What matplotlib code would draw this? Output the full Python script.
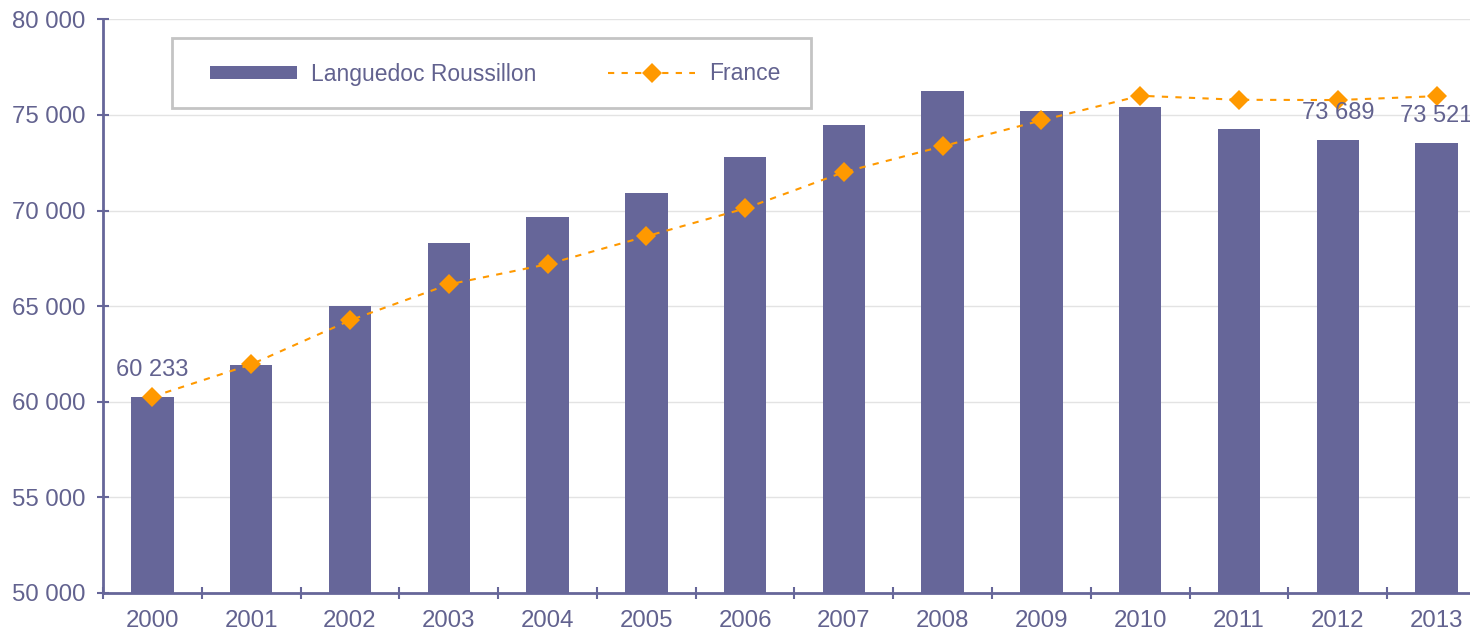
import matplotlib
matplotlib.use("Agg")
import matplotlib.pyplot as plt
from matplotlib.patches import Rectangle
from matplotlib.ticker import FuncFormatter, FixedLocator
import numpy as np

years = ["2000", "2001", "2002", "2003", "2004", "2005", "2006",
         "2007", "2008", "2009", "2010", "2011", "2012", "2013"]
languedoc = [60233, 61904, 65011, 68288, 69641, 70910, 72791,
             74461, 76258, 75201, 75412, 74250, 73689, 73521]
france = [60254, 61946, 64251, 66132, 67189, 68648, 70106,
          72009, 73362, 74715, 76004, 75793, 75780, 75983]
labelled = {0: "60 233", 12: "73 689", 13: "73 521"}

BAR = "#666699"
ORANGE = "#FF9900"
TXT = "#62628F"
W, H, DPI = 1470, 633, 100

plt.rcParams["font.family"] = ["Liberation Sans", "DejaVu Sans"]
fig = plt.figure(figsize=(W / DPI, H / DPI), dpi=DPI)
left, right = 103, 1486
top, bottom = 19.4, 592.7
ax = fig.add_axes([left / W, 1 - bottom / H, (right - left) / W, (bottom - top) / H])

x = np.arange(len(years))
bars = ax.bar(x, languedoc, width=0.43, color=BAR, zorder=2, label="Languedoc Roussillon")
line, = ax.plot(x, france, linestyle=(0, (3, 3.5)), color=ORANGE, linewidth=1.5,
                marker="D", markersize=10, markeredgewidth=0, zorder=3, label="France")

for i, txt in labelled.items():
    ax.annotate(txt, (x[i], languedoc[i]), xytext=(0, 19.5), textcoords="offset points",
                ha="center", va="center", fontsize=17, color=TXT, zorder=4)

ax.set_xlim(-0.5, len(years) - 0.5)
ax.set_ylim(50000, 80000)
ax.set_yticks(np.arange(50000, 80001, 5000))
ax.yaxis.set_major_formatter(FuncFormatter(lambda v, p: f"{int(v):,}".replace(",", " ")))
ax.set_xticks(x)
ax.set_xticklabels(years)
ax.xaxis.set_minor_locator(FixedLocator(np.arange(-0.5, len(years), 1.0)))

ax.grid(axis="y", color="#E3E3E3", linewidth=1.0, zorder=0)
ax.set_axisbelow(True)
for s in ["top", "right"]:
    ax.spines[s].set_visible(False)
for s in ["left", "bottom"]:
    ax.spines[s].set_color(BAR)
    ax.spines[s].set_linewidth(2)

ax.tick_params(axis="y", which="major", direction="inout", length=9, width=1.5,
               color=BAR, labelsize=17.3, labelcolor=TXT, pad=8)
ax.tick_params(axis="x", which="major", length=0, labelsize=17.3, labelcolor=TXT, pad=12.5)
ax.tick_params(axis="x", which="minor", direction="inout", length=9, width=1.5, color=BAR)

# legend frame
fig.patches.append(Rectangle((172 / W, 1 - 108 / H), (811 - 172) / W, 70 / H,
                             transform=fig.transFigure, fill=False,
                             edgecolor="#C4C4C4", linewidth=2, zorder=5))
fig.legend(handles=[bars, line], labels=["Languedoc Roussillon", "France"],
           loc="center left", bbox_to_anchor=(210 / W, 1 - 74 / H), ncol=2,
           frameon=False, fontsize=16.5, labelcolor=TXT, handlelength=3.8,
           handleheight=0.5, handletextpad=0.6, columnspacing=3.15,
           borderpad=0, borderaxespad=0)

fig.savefig("out.png", dpi=DPI)
